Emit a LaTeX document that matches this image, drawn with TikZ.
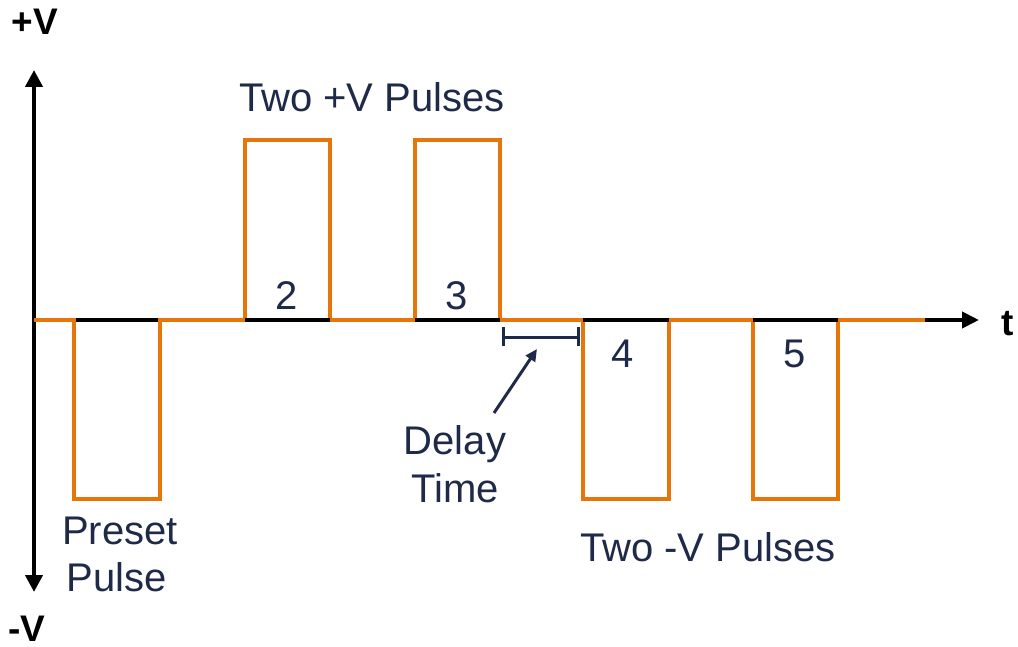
\documentclass[tikz,border=0pt]{standalone}
\usepackage{fontspec}
\setmainfont{Liberation Sans}
\usetikzlibrary{arrows.meta}
\definecolor{pulseorange}{RGB}{230,118,10}
\definecolor{navy}{RGB}{31,42,72}
\tikzset{
  axisline/.style={line width=4pt, black},
  wave/.style={line width=4pt, pulseorange, line join=miter},
  lbl/.style={text=navy, font=\fontsize{40}{48}\selectfont, inner sep=0pt, anchor=base},
  axlbl/.style={text=black, font=\bfseries\fontsize{37}{44}\selectfont, inner sep=0pt, anchor=base},
  navyline/.style={line width=3pt, navy},
}
\begin{document}
\begin{tikzpicture}[x=1pt,y=-1pt]
\useasboundingbox (0,0) rectangle (1018,647);
% axes
\coordinate (ytop) at (34,70);
\coordinate (ybot) at (34,592);
\coordinate (orig) at (34,320);
\coordinate (xend) at (979,320);
\draw[axisline, {Triangle[length=17pt,width=17pt]}-{Triangle[length=17pt,width=17pt]}] (ybot) -- (ytop);
\draw[axisline, -{Triangle[length=17pt,width=16pt]}] (orig) -- (xend);
% waveform
\draw[wave] (34,320) -- (74,320) -- (74,499) -- (160,499) -- (160,320) -- (245,320)
  -- (245,140) -- (330,140) -- (330,320) -- (415,320) -- (415,140) -- (500,140)
  -- (500,320) -- (583,320) -- (583,499) -- (669,499) -- (669,320) -- (753,320)
  -- (753,499) -- (838,499) -- (838,320) -- (925,320);
\draw[axisline] (245,320) -- (330,320);
\draw[axisline] (415,320) -- (500,320);
\draw[axisline] (583,320) -- (669,320);
\draw[axisline] (753,320) -- (838,320);
% axis labels
\node[axlbl] (pv) at (35,35) {+V};
\node[axlbl] (mv) at (27,641) {-V};
\node[axlbl] (tl) at (1008,335) {t};
% labels
\node[lbl] (twopos) at (372,112) {Two +V Pulses};
\node[lbl] (n2) at (287,309) {2};
\node[lbl] (n3) at (457,309) {3};
\node[lbl] (n4) at (623,367) {4};
\node[lbl] (n5) at (795,367) {5};
\node[lbl] (delay) at (455,454) {Delay};
\node[lbl] (time) at (455,502) {Time};
\node[lbl] (preset) at (120,544) {Preset};
\node[lbl] (pulse) at (117,591) {Pulse};
\node[lbl] (twoneg) at (708,561) {Two -V Pulses};
% delay bracket
\coordinate (bl) at (503,337);
\coordinate (br) at (578,337);
\draw[navyline] (bl) -- (br);
\draw[navyline] ([yshift=-9pt]bl) -- ([yshift=10pt]bl);
\draw[navyline] ([yshift=-9pt]br) -- ([yshift=10pt]br);
\coordinate (arrtip) at (537,349);
\coordinate (arrtail) at (494,413);
\draw[navyline, -{Triangle[length=12pt,width=11pt]}] (arrtail) -- (arrtip);
\end{tikzpicture}
\end{document}
